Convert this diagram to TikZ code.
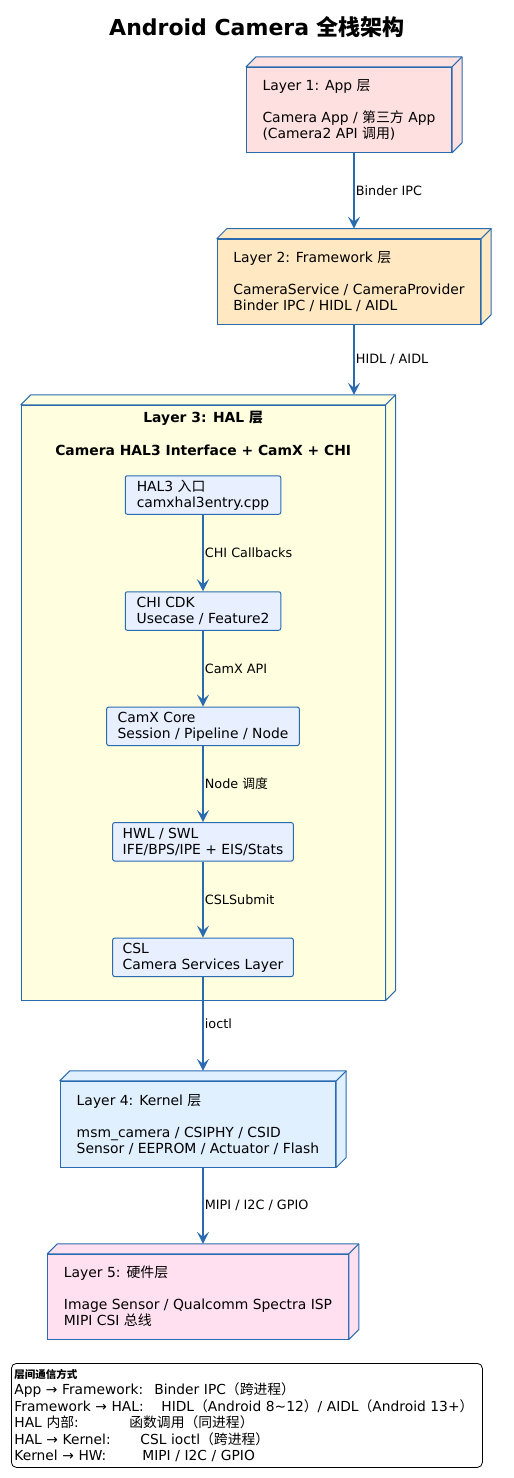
\documentclass[tikz,border=0pt]{standalone}
\usepackage{fontspec}
\setmainfont{DejaVu Sans}
\newfontfamily\cjk{Noto Sans CJK SC}
\newcommand{\zh}[1]{{\cjk #1}}
\usetikzlibrary{arrows.meta}
\definecolor{edgeblue}{HTML}{2A6BB0}
\definecolor{appfill}{HTML}{FFE0E0}
\definecolor{fwfill}{HTML}{FFE8C2}
\definecolor{halfill}{HTML}{FFFFE0}
\definecolor{kernfill}{HTML}{E0F0FF}
\definecolor{hwfill}{HTML}{FFE0F0}
\definecolor{innerfill}{HTML}{E8F0FF}
\tikzset{
  layerbox/.style={draw=edgeblue, line width=1pt, align=left, inner sep=0pt,
    font=\fontsize{13.9}{16}\selectfont},
  halbox/.style={draw=edgeblue, line width=1pt, rounded corners=2pt, fill=innerfill,
    align=left, inner sep=0pt, minimum height=38.5pt, font=\fontsize{13.9}{16}\selectfont},
  flow/.style={draw=edgeblue, line width=1.8pt, -{Stealth[length=12pt,width=12pt,inset=5pt]}},
  flowlabel/.style={anchor=west, inner sep=1pt, font=\fontsize{12.8}{15}\selectfont},
  legend/.style={draw=black, line width=0.8pt, rounded corners=5pt, align=left,
    text width=465pt, inner xsep=3pt, inner ysep=0pt, minimum height=104pt,
    font=\fontsize{13.8}{16.5}\selectfont}
}
\newcommand{\cubeside}[2]{%
  \filldraw[fill=#2, draw=edgeblue, line width=1pt, line join=round]
    (#1.north west) -- ++(10pt,10pt) -| ([shift={(10pt,10pt)}]#1.south east)
    -- (#1.south east) -- (#1.north east) -- cycle;
  \draw[edgeblue, line width=1pt] (#1.north east) -- ++(10pt,10pt);
}
\begin{document}
\begin{tikzpicture}[x=1pt,y=-1pt]
  \useasboundingbox (0,0) rectangle (514,1478);
  \node[font=\fontsize{22}{26}\selectfont\bfseries] (title) at (257,27) {Android Camera \zh{全栈架构}};

  \node[layerbox, fill=appfill, minimum width=205pt, minimum height=85pt] (app) at (349,109.8)
    {Layer 1: App \zh{层}\\[16pt]Camera App / \zh{第三方} App\\(Camera2 API \zh{调用})};
  \cubeside{app}{appfill}
  \node[layerbox, fill=fwfill, minimum width=263.4pt, minimum height=85pt] (fw) at (349,281.7)
    {Layer 2: Framework \zh{层}\\[16pt]CameraService / CameraProvider\\Binder IPC / HIDL / AIDL};
  \cubeside{fw}{fwfill}

  \node[layerbox, fill=halfill, minimum width=363.7pt, minimum height=594.7pt] (hal) at (203.2,702.7) {};
  \cubeside{hal}{halfill}
  \node[font=\fontsize{13.9}{16}\selectfont\bfseries, align=center] (haltitle) at (203.2,433.5)
    {Layer 3: HAL \zh{层}\\[17pt]Camera HAL3 Interface + CamX + CHI};
  \coordinate (haltop) at ([yshift=10pt]hal.north);
  \coordinate (fwout) at ([xshift=5pt]fw.south);

  \node[halbox, minimum width=155.5pt] (entry) at (203,495) {HAL3 \zh{入口}\\camxhal3entry.cpp};
  \node[halbox, minimum width=155.5pt] (chi) at (203,611) {CHI CDK\\Usecase / Feature2};
  \node[halbox, minimum width=192.6pt] (camx) at (203,726.3) {CamX Core\\Session / Pipeline / Node};
  \node[halbox, minimum width=180.6pt] (hwl) at (203,841.8) {HWL / SWL\\IFE/BPS/IPE + EIS/Stats};
  \node[halbox, minimum width=180.6pt] (csl) at (203,957.3) {CSL\\Camera Services Layer};

  \node[layerbox, fill=kernfill, minimum width=275.4pt, minimum height=85.7pt] (kern) at (198,1124.2)
    {Layer 4: Kernel \zh{层}\\[16pt]msm\_camera / CSIPHY / CSID\\Sensor / EEPROM / Actuator / Flash};
  \cubeside{kern}{kernfill}
  \node[layerbox, fill=hwfill, minimum width=300.6pt, minimum height=84.7pt] (hw) at (198,1296.7)
    {Layer 5: \zh{硬件层}\\[16pt]Image Sensor / Qualcomm Spectra ISP\\MIPI CSI \zh{总线}};
  \cubeside{hw}{hwfill}

  \draw[flow] ([xshift=5pt]app.south) -- ([shift={(5pt,10pt)}]fw.north) node[flowlabel, midway] {Binder IPC};
  \draw[flow] (fwout) -- (fwout |- haltop) node[flowlabel, midway] {HIDL / AIDL};
  \draw[flow] (entry) -- (chi) node[flowlabel, midway] {CHI Callbacks};
  \draw[flow] (chi) -- (camx) node[flowlabel, midway] {CamX API};
  \draw[flow] (camx) -- (hwl) node[flowlabel, midway] {Node \zh{调度}};
  \draw[flow] (hwl) -- (csl) node[flowlabel, midway] {CSLSubmit};
  \draw[flow] (csl) -- ([shift={(5pt,10pt)}]kern.north) node[flowlabel, midway] {ioctl};
  \draw[flow] ([xshift=5pt]kern.south) -- ([shift={(5pt,10pt)}]hw.north) node[flowlabel, midway] {MIPI / I2C / GPIO};

  \node[legend, anchor=north west] (notes) at (11,1363)
    {{\fontsize{10.5}{16.5}\selectfont\bfseries\zh{层间通信方式}}\\
     \mbox{\makebox[140pt][l]{App → Framework:}Binder IPC\zh{（跨进程）}}\\
     \mbox{\makebox[147pt][l]{Framework → HAL:}HIDL\zh{（}Android 8\textasciitilde 12\zh{）}/ AIDL\zh{（}Android 13+\zh{）}}\\
     \mbox{\makebox[115pt][l]{HAL \zh{内部}:}\zh{函数调用（同进程）}}\\
     \mbox{\makebox[126pt][l]{HAL → Kernel:}CSL ioctl\zh{（跨进程）}}\\
     \mbox{\makebox[128pt][l]{Kernel → HW:}MIPI / I2C / GPIO}};
\end{tikzpicture}
\end{document}
